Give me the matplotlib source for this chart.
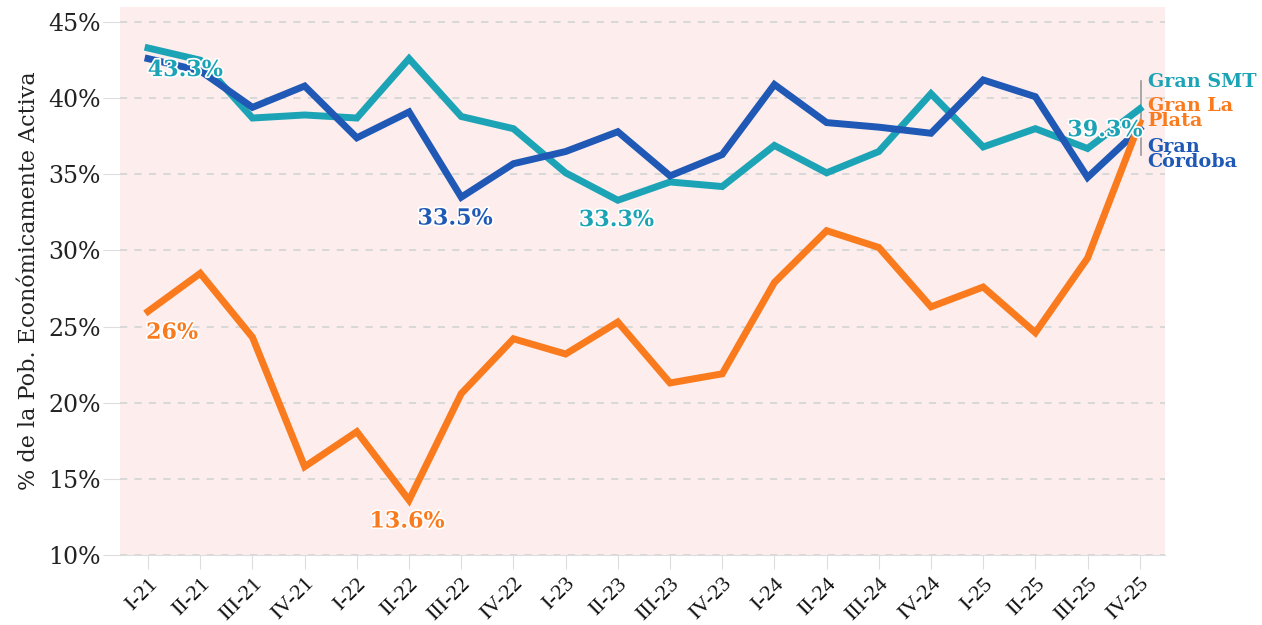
import matplotlib.pyplot as plt
import matplotlib.patheffects as pe

quarters = ['I-21', 'II-21', 'III-21', 'IV-21', 'I-22', 'II-22', 'III-22', 'IV-22',
            'I-23', 'II-23', 'III-23', 'IV-23', 'I-24', 'II-24', 'III-24', 'IV-24',
            'I-25', 'II-25', 'III-25', 'IV-25']

smt = [43.3, 42.5, 38.7, 38.9, 38.7, 42.6, 38.8, 38.0, 35.1, 33.3,
       34.5, 34.2, 36.9, 35.1, 36.5, 40.3, 36.8, 38.0, 36.7, 39.3]
cordoba = [42.6, 41.8, 39.4, 40.8, 37.4, 39.1, 33.5, 35.7, 36.5, 37.8,
           34.9, 36.3, 40.9, 38.4, 38.1, 37.7, 41.2, 40.1, 34.8, 38.0]
la_plata = [26.0, 28.5, 24.3, 15.8, 18.1, 13.6, 20.6, 24.2, 23.2, 25.3,
            21.3, 21.9, 27.9, 31.3, 30.2, 26.3, 27.6, 24.6, 29.5, 38.4]

c_smt = '#1ca4b6'
c_cba = '#1f58b5'
c_lp = '#fa7a1e'

fig = plt.figure(figsize=(12.62, 6.25), dpi=100)
ax = fig.add_axes([0.095, 0.112, 0.828, 0.877])
ax.set_facecolor('#fdeeed')

x = list(range(len(quarters)))
ax.plot(x, smt, color=c_smt, lw=5, solid_joinstyle='miter', zorder=3)
ax.plot(x, cordoba, color=c_cba, lw=5, solid_joinstyle='miter', zorder=3)
ax.plot(x, la_plata, color=c_lp, lw=5, solid_joinstyle='miter', zorder=3)
ax.annotate('', xy=(x[-1], la_plata[-1] + 0.3), xytext=(x[-1] - 0.1, la_plata[-1] - 0.6),
            arrowprops=dict(arrowstyle='-|>', color=c_lp, lw=0, mutation_scale=14), zorder=4)

ax.set_xlim(-0.54, 19.48)
ax.set_ylim(10, 46)
ax.set_yticks([10, 15, 20, 25, 30, 35, 40, 45])
ax.set_yticklabels([f'{v}%' for v in [10, 15, 20, 25, 30, 35, 40, 45]],
                   fontfamily='DejaVu Serif', fontsize=17, color='#222222')
ax.set_xticks(x)
ax.set_xticklabels(quarters, rotation=45, ha='right', rotation_mode='anchor',
                   fontfamily='Liberation Serif', fontsize=16, color='#111111')
ax.tick_params(axis='y', length=12, color='#dddddd', pad=2)
ax.tick_params(axis='x', length=10, color='#dddddd', pad=4)
ax.grid(axis='y', color='#d6d6d6', ls=(0, (4, 4)), lw=1.3)
for s in ['top', 'right', 'left']:
    ax.spines[s].set_visible(False)
ax.spines['bottom'].set_color('#dddddd')

ax.set_ylabel('% de la Pob. Económicamente Activa', fontfamily='DejaVu Serif',
              fontsize=16, color='#222222', labelpad=6)

halo = [pe.withStroke(linewidth=2.5, foreground='white')]
labels = [
    ('43.3%', 0.71, 41.85, c_smt),
    ('26%', 0.46, 24.6, c_lp),
    ('13.6%', 4.96, 12.2, c_lp),
    ('33.5%', 5.88, 32.1, c_cba),
    ('33.3%', 8.97, 32.0, c_smt),
    ('39.3%', 18.33, 37.9, c_smt),
]
for txt, lx, ly, col in labels:
    ax.text(lx, ly, txt, color=col, fontsize=16, fontweight='semibold', fontfamily='DejaVu Serif',
            ha='center', va='center', path_effects=halo, zorder=5)

# end labels
ax.plot([19.02, 19.02], [36.3, 41.1], color='#999999', lw=1.2, clip_on=False)
ends = [('Gran SMT', 41.06, c_smt), ('Gran La\nPlata', 39.0, c_lp), ('Gran\nCórdoba', 36.3, c_cba)]
for txt, ly, col in ends:
    ax.text(19.15, ly, txt, color=col, fontsize=13.8, fontweight='bold', fontfamily='DejaVu Serif',
            ha='left', va='center', linespacing=0.82, clip_on=False)

fig.savefig('out.png', dpi=100)
